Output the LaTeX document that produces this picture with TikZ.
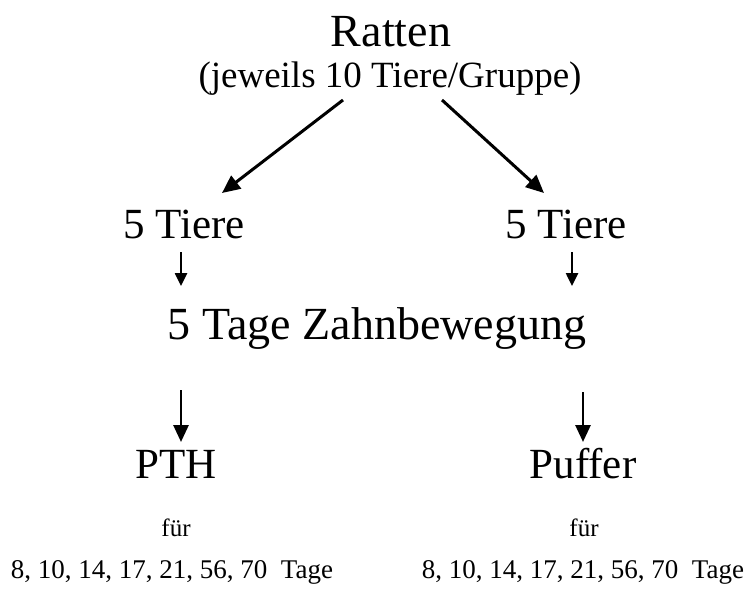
\documentclass[tikz,border=0pt]{standalone}
\usepackage{fontspec}
\setmainfont{Liberation Serif}
\usetikzlibrary{arrows.meta}
\tikzset{
  lbl/.style={anchor=base,inner sep=0pt,outer sep=0pt},
  big/.style={lbl,font=\fontsize{43}{47}\selectfont},
  small/.style={lbl,font=\fontsize{27}{31}\selectfont},
  arr/.style={line width=3pt,-{Triangle[length=18pt,width=16pt]}},
  varr/.style={line width=2.8pt,-{Triangle[length=17pt,width=15pt]}},
  sarr/.style={line width=2.5pt,-{Triangle[length=13pt,width=12pt]}}
}
\begin{document}
\begin{tikzpicture}[x=1pt,y=-1pt]
\useasboundingbox (0,0) rectangle (750,595);
\node[lbl,font=\fontsize{46}{50}\selectfont] (ratten) at (391,46) {Ratten};
\node[lbl,font=\fontsize{37}{41}\selectfont] (sub) at (390,87) {(jeweils 10 Tiere/Gruppe)};
\node[big] (tl) at (184,238) {5 Tiere};
\node[big] (tr) at (566,238) {5 Tiere};
\node[lbl,font=\fontsize{46}{50}\selectfont] (zahn) at (377,339) {5 Tage Zahnbewegung};
\node[big] (pth) at (176,478) {PTH};
\node[big] (puf) at (583,478) {Puffer};
\node[lbl,font=\fontsize{25}{29}\selectfont] (f1) at (176,536) {für};
\node[lbl,font=\fontsize{25}{29}\selectfont] (f2) at (584,536) {für};
\node[small] (d1) at (172,578) {8, 10, 14, 17, 21, 56, 70~~Tage};
\node[small] (d2) at (583,578) {8, 10, 14, 17, 21, 56, 70~~Tage};
\coordinate (a1s) at (343,100); \coordinate (a1e) at (222,193);
\coordinate (a2s) at (442,100); \coordinate (a2e) at (544,193);
\coordinate (b1s) at (181,252); \coordinate (b1e) at (181,286);
\coordinate (b2s) at (572,252); \coordinate (b2e) at (572,286);
\coordinate (c1s) at (181,390); \coordinate (c1e) at (181,442);
\coordinate (c2s) at (583,392); \coordinate (c2e) at (583,442);
\draw[arr] (a1s) -- (a1e);
\draw[arr] (a2s) -- (a2e);
\draw[sarr] (b1s) -- (b1e);
\draw[sarr] (b2s) -- (b2e);
\draw[varr] (c1s) -- (c1e);
\draw[varr] (c2s) -- (c2e);
\end{tikzpicture}
\end{document}
